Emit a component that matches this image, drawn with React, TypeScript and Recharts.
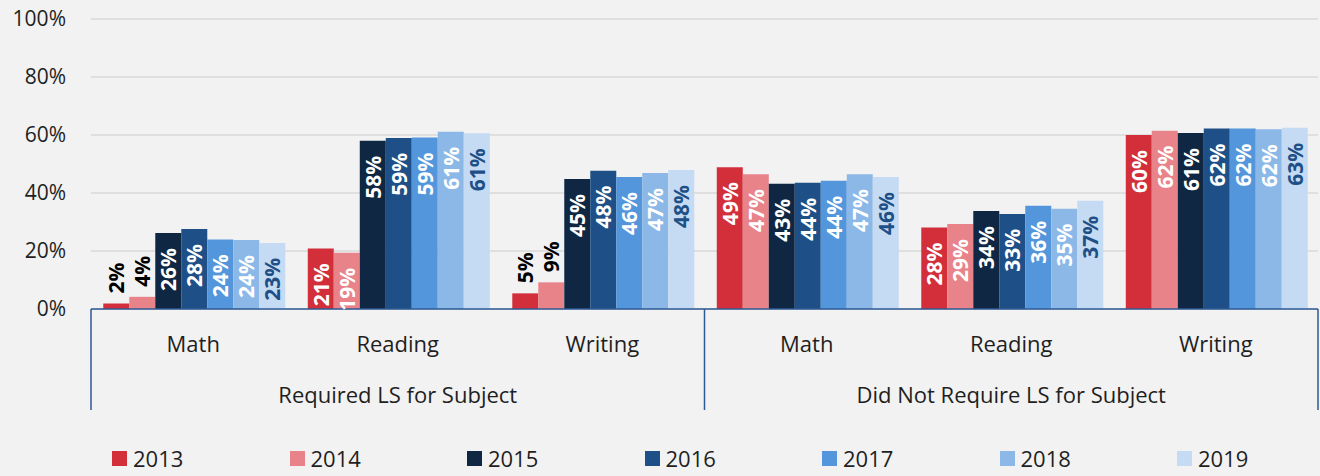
import React from 'react';
import { BarChart, Bar, XAxis, YAxis, CartesianGrid, Legend, LabelList } from 'recharts';

const groups = ['Required LS for Subject', 'Did Not Require LS for Subject'];
const subjects = ['Math', 'Reading', 'Writing'];
const years = ['2013', '2014', '2015', '2016', '2017', '2018', '2019'];

// percent of schools, per category (Req Math, Req Reading, Req Writing, Not Math, Not Reading, Not Writing)
const v2013 = [1.9, 20.9, 5.4, 48.9, 28.1, 60.0];
const v2014 = [4.2, 19.4, 9.2, 46.5, 29.3, 61.5];
const v2015 = [26.2, 58.0, 44.8, 43.2, 33.8, 60.7];
const v2016 = [27.6, 59.0, 47.7, 43.5, 32.8, 62.2];
const v2017 = [24.0, 59.1, 45.5, 44.2, 35.6, 62.2];
const v2018 = [23.8, 61.1, 46.9, 46.5, 34.6, 62.0];
const v2019 = [22.8, 60.6, 47.9, 45.5, 37.3, 62.5];
const yTicks = [0, 20, 40, 60, 80, 100];

const series = [v2013, v2014, v2015, v2016, v2017, v2018, v2019];
const colors = ['#d22f3b', '#e8838a', '#0f2742', '#1e4f86', '#5396db', '#8cb8e8', '#c4dbf3'];
const labelColors = ['#fff', '#fff', '#fff', '#fff', '#fff', '#fff', '#1e4f86'];

const data = groups.flatMap((g, gi) =>
  subjects.map((s, si) => {
    const row: any = { key: g + '|' + s };
    years.forEach((y, yi) => {
      row[y] = series[yi][gi * 3 + si];
    });
    return row;
  })
);

const FONT = "'Open Sans', 'Noto Sans', sans-serif";
const TEXT = '#1f1f1f';
const AXIS = '#2e5a94';
const BAND = 1227 / 6;

function CategoryTick(props: any) {
  const { x, y, payload } = props;
  const i = props.index ?? payload.index;
  const [group, subject] = String(payload.value).split('|');
  return (
    <g>
      <text x={x} y={y + 34} textAnchor="middle" dominantBaseline="central" fill={TEXT} fontSize={22}>
        {subject}
      </text>
      {i % 3 === 1 && (
        <text x={x} y={y + 85} textAnchor="middle" dominantBaseline="central" fill={TEXT} fontSize={22}>
          {group}
        </text>
      )}
      {i % 3 === 0 && <line x1={x - BAND / 2} x2={x - BAND / 2} y1={y} y2={y + 101} stroke={AXIS} strokeWidth={1.5} />}
      {i === 5 && <line x1={x + BAND / 2} x2={x + BAND / 2} y1={y} y2={y + 101} stroke={AXIS} strokeWidth={1.5} />}
    </g>
  );
}

function makeLabel(color: string) {
  return (props: any) => {
    const { x, y, width, value } = props;
    const cx = x + width / 2;
    const outside = value < 12;
    const ty = outside ? y - 10 : y + 15;
    return (
      <text
        x={cx}
        y={ty}
        transform={`rotate(-90 ${cx} ${ty})`}
        textAnchor={outside ? 'start' : 'end'}
        dominantBaseline="central"
        fontSize={21}
        fontWeight="bold"
        fill={outside ? '#000' : color}
      >
        {Math.round(value)}%
      </text>
    );
  };
}

function LegendRow() {
  return (
    <div style={{ position: 'relative', height: 36, width: 1320 }}>
      {years.map((y, i) => (
        <div
          key={y}
          style={{ position: 'absolute', left: 112 + i * 177.5, top: 0, height: 36, display: 'flex', alignItems: 'center', whiteSpace: 'nowrap' }}
        >
          <span style={{ width: 15, height: 15, background: colors[i], marginRight: 6 }} />
          <span style={{ fontSize: 22, color: TEXT, lineHeight: '36px' }}>{y}</span>
        </div>
      ))}
    </div>
  );
}

export default function App() {
  return (
    <div style={{ position: 'absolute', left: 0, top: 0, width: 1320, height: 476, background: '#f2f2f2', fontFamily: FONT }}>
      <BarChart
        width={1320}
        height={476}
        data={data}
        margin={{ top: 19, right: 2, bottom: 0, left: 0 }}
        barCategoryGap="6%"
        barGap={0}
      >
        <CartesianGrid vertical={false} stroke="#d9d9d9" strokeWidth={1.5} />
        <YAxis
          width={91}
          domain={[0, 100]}
          ticks={yTicks}
          tickFormatter={(v) => `${v}%`}
          axisLine={false}
          tickLine={false}
          tickSize={0}
          tickMargin={25}
          tick={{ fill: TEXT, fontSize: 21 }}
        />
        <XAxis
          dataKey="key"
          height={131}
          interval={0}
          tickLine={false}
          tickSize={0}
          tickMargin={0}
          axisLine={{ stroke: AXIS, strokeWidth: 1.5 }}
          tick={<CategoryTick />}
        />
        <Legend
          verticalAlign="bottom"
          align="left"
          wrapperStyle={{ left: 0, bottom: 0, width: 1320, height: 36 }}
          content={() => <LegendRow />}
        />
        {years.map((y, i) => (
          <Bar key={y} dataKey={y} fill={colors[i]} isAnimationActive={false}>
            <LabelList dataKey={y} content={makeLabel(labelColors[i])} />
          </Bar>
        ))}
      </BarChart>
    </div>
  );
}
